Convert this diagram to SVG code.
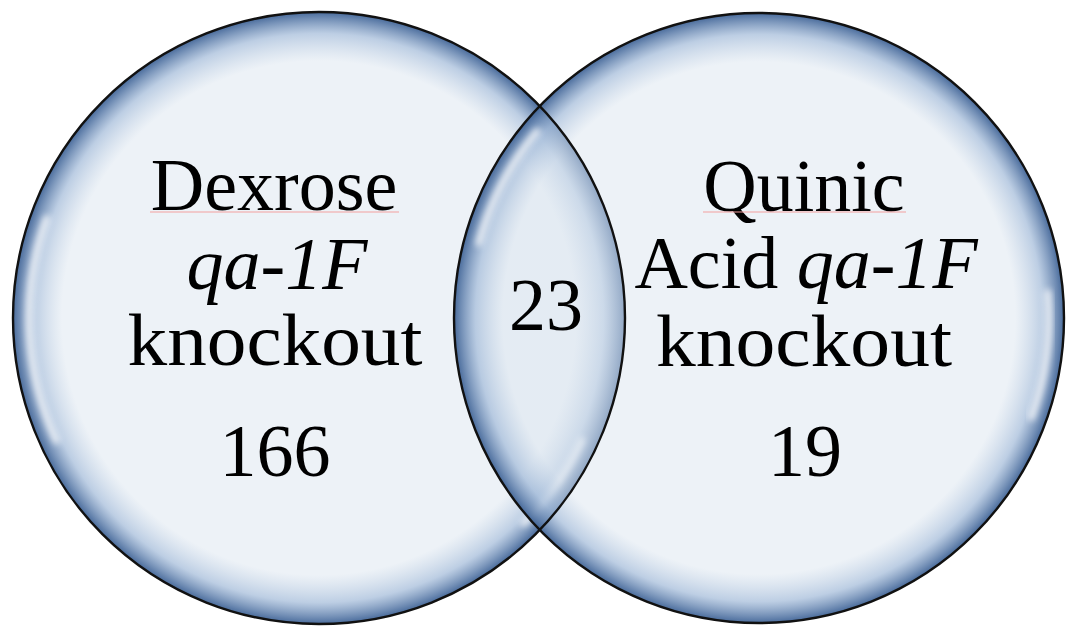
<svg xmlns="http://www.w3.org/2000/svg" width="1067" height="627" viewBox="0 0 1067 627">
<defs>
<radialGradient id="fillG" cx="0.5" cy="0.5" r="0.5">
<stop offset="0" stop-color="#dbe5ef" stop-opacity="0.5"/>
<stop offset="0.84" stop-color="#dbe5ef" stop-opacity="0.5"/>
<stop offset="0.93" stop-color="#a3bbd9" stop-opacity="0.72"/>
<stop offset="1" stop-color="#3f6396" stop-opacity="0.95"/>
</radialGradient>
<filter id="soft" x="-30%" y="-30%" width="160%" height="160%"><feGaussianBlur stdDeviation="3"/></filter>
</defs>
<style>
.disc{fill:url(#fillG)}
.ring{fill:none;stroke:#111;stroke-width:2.4}
.hl{fill:none;stroke:#fff;stroke-width:7;stroke-linecap:round;opacity:.75;filter:url(#soft)}
.t{font-family:"Liberation Serif","Times New Roman",serif;font-size:74px;fill:#000;text-anchor:middle}
.i{font-style:italic}
.sq{stroke:#f4a0a0;stroke-width:1.2}
</style>
<rect width="1067" height="627" fill="#fff"/>
<g id="circle-left">
<circle class="disc" cx="319" cy="318" r="306"/>
<path class="hl" d="M46.5,218.8 A290,290 0 0 0 56.2,440.6"/>
<path class="hl" d="M581.8,440.6 A290,290 0 0 1 524.1,523.1"/>
</g>
<g id="circle-right">
<circle class="disc" cx="759" cy="318" r="305"/>
<path class="hl" d="M536.9,131.6 A290,290 0 0 0 478.9,242.9"/>
<path class="hl" d="M1047.9,292.7 A290,290 0 0 1 1031.5,417.2"/>
</g>
<g id="outlines">
<circle class="ring" cx="319" cy="318" r="306"/>
<circle class="ring" cx="759" cy="318" r="305"/>
</g>
<g id="label-left">
<text class="t" x="274" y="210">Dexrose</text>
<line class="sq" x1="150" y1="212" x2="399" y2="212"/>
<text class="t i" x="277" y="289">qa-1F</text>
<text class="t" x="275" y="365" textLength="295" lengthAdjust="spacingAndGlyphs">knockout</text>
<text class="t" x="275" y="476">166</text>
</g>
<g id="label-overlap">
<text class="t" x="546" y="330">23</text>
</g>
<g id="label-right">
<text class="t" x="804" y="211">Quinic</text>
<line class="sq" x1="703" y1="212" x2="906" y2="212"/>
<text class="t" x="806" y="288">Acid <tspan class="i">qa-1F</tspan></text>
<text class="t" x="804" y="366" textLength="296" lengthAdjust="spacingAndGlyphs">knockout</text>
<text class="t" x="805" y="476">19</text>
</g>
</svg>
